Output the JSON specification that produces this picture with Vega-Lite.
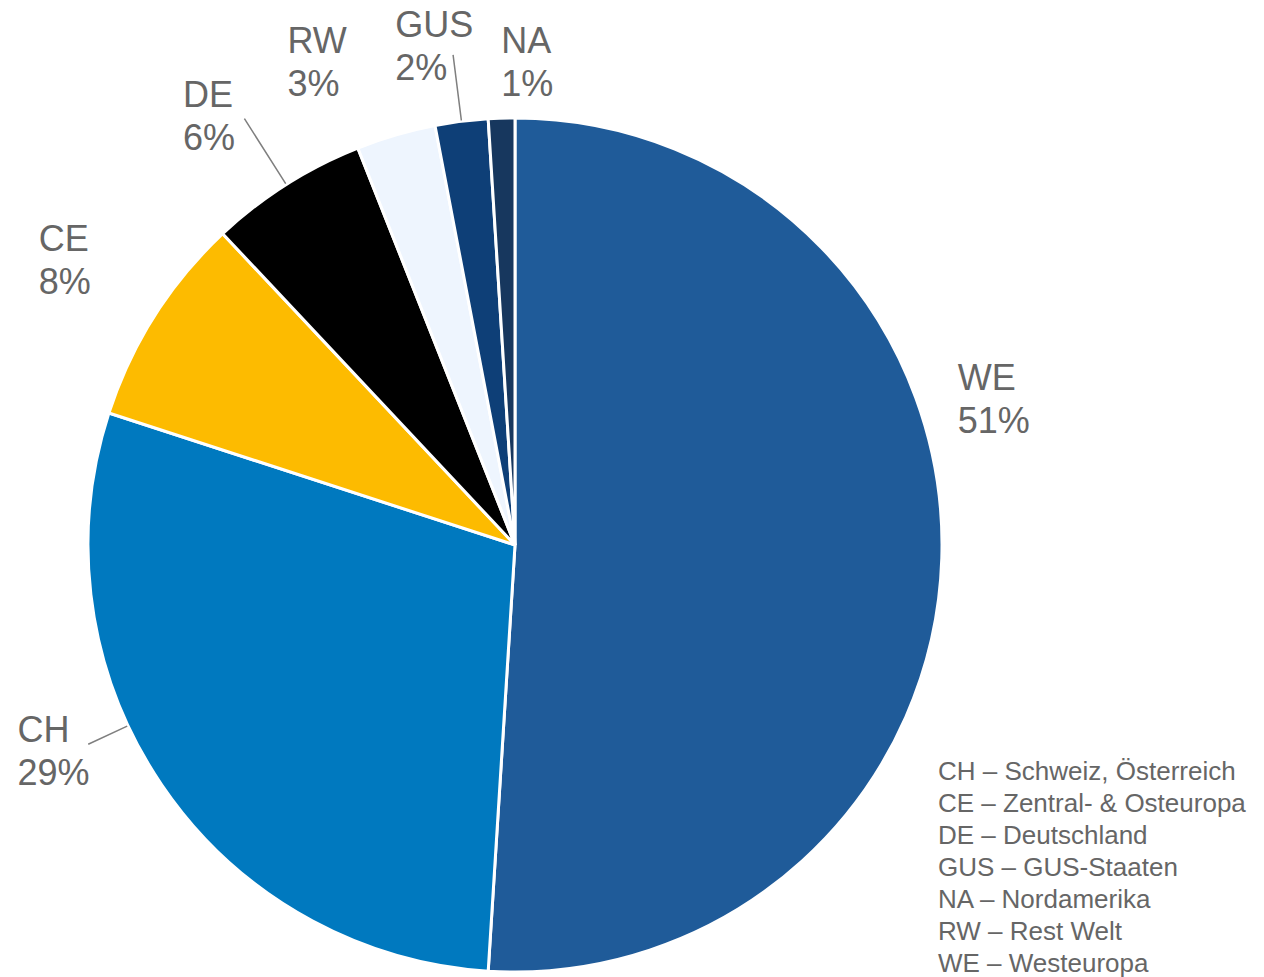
{
  "$schema": "https://vega.github.io/schema/vega-lite/v6.json",
  "autosize": "none",
  "width": 854,
  "height": 854,
  "padding": {"left": 88, "top": 118, "right": 322, "bottom": 5},
  "background": "white",
  "config": {"view": {"stroke": null}, "font": "Liberation Sans"},
  "data": {
    "values": [
      {"code": "WE", "name": "WE – Westeuropa", "share": 51, "label": "WE\n51%"},
      {"code": "CH", "name": "CH – Schweiz, Österreich", "share": 29, "label": "CH\n29%"},
      {"code": "CE", "name": "CE – Zentral- & Osteuropa", "share": 8, "label": "CE\n8%"},
      {"code": "DE", "name": "DE – Deutschland", "share": 6, "label": "DE\n6%"},
      {"code": "RW", "name": "RW – Rest Welt", "share": 3, "label": "RW\n3%"},
      {"code": "GUS", "name": "GUS – GUS-Staaten", "share": 2, "label": "GUS\n2%"},
      {"code": "NA", "name": "NA – Nordamerika", "share": 1, "label": "NA\n1%"}
    ]
  },
  "layer": [
    {
      "mark": {"type": "arc", "stroke": "white", "strokeWidth": 3},
      "encoding": {
        "theta": {"field": "share", "type": "quantitative", "stack": true},
        "order": {"field": "share", "sort": "descending"},
        "color": {
          "field": "name",
          "type": "nominal",
          "scale": {
            "domain": ["CH – Schweiz, Österreich", "CE – Zentral- & Osteuropa", "DE – Deutschland", "GUS – GUS-Staaten", "NA – Nordamerika", "RW – Rest Welt", "WE – Westeuropa"],
            "range": ["#0079BF", "#FDBB00", "#000000", "#0E3F77", "#17375E", "#EEF5FE", "#1F5B99"]
          },
          "legend": {
            "title": null,
            "orient": "none",
            "legendX": 824,
            "legendY": 641,
            "symbolOpacity": 0,
            "symbolStrokeWidth": 0,
            "symbolSize": 0,
            "labelOffset": 0,
            "labelFontSize": 26,
            "labelColor": "#666666",
            "labelFont": "Liberation Sans",
            "labelLimit": 500,
            "rowPadding": 6
          }
        }
      }
    },
    {
      "mark": {
        "type": "arc",
        "fillOpacity": 0,
        "stroke": "#7f7f7f",
        "strokeWidth": 1.5,
        "padAngle": 3,
        "radius": {"expr": "datum.code === 'CH' ? 471 : datum.code === 'DE' ? 505 : 494"},
        "radius2": 428,
        "thetaOffset": {"expr": "datum.code === 'CH' ? 0.16 : 0"},
        "theta2Offset": {"expr": "datum.code === 'CH' ? 0.16 : 0"}
      },
      "encoding": {
        "theta": {"field": "share", "type": "quantitative", "stack": true},
        "order": {"field": "share", "sort": "descending"},
        "strokeOpacity": {
          "condition": {"test": "datum.code === 'CH' || datum.code === 'DE' || datum.code === 'GUS'", "value": 1},
          "value": 0
        }
      }
    },
    {
      "mark": {
        "type": "text",
        "align": "left",
        "baseline": "alphabetic",
        "fontSize": 36,
        "lineHeight": 43,
        "lineBreak": "\n",
        "color": "#666666",
        "font": "Liberation Sans",
        "radius": 500,
        "dx": {"expr": "datum.code === 'WE' ? -57 : datum.code === 'CH' ? -84 : datum.code === 'CE' ? -54 : datum.code === 'DE' ? -64 : datum.code === 'RW' ? -88 : datum.code === 'GUS' ? -57 : 2"},
        "dy": {"expr": "datum.code === 'WE' ? -171 : datum.code === 'CH' ? -84 : datum.code === 'CE' ? -26 : datum.code === 'DE' ? -16 : datum.code === 'RW' ? -12 : datum.code === 'GUS' ? -12 : 8"}
      },
      "encoding": {
        "theta": {"field": "share", "type": "quantitative", "stack": true},
        "order": {"field": "share", "sort": "descending"},
        "text": {"field": "label"}
      }
    }
  ]
}
